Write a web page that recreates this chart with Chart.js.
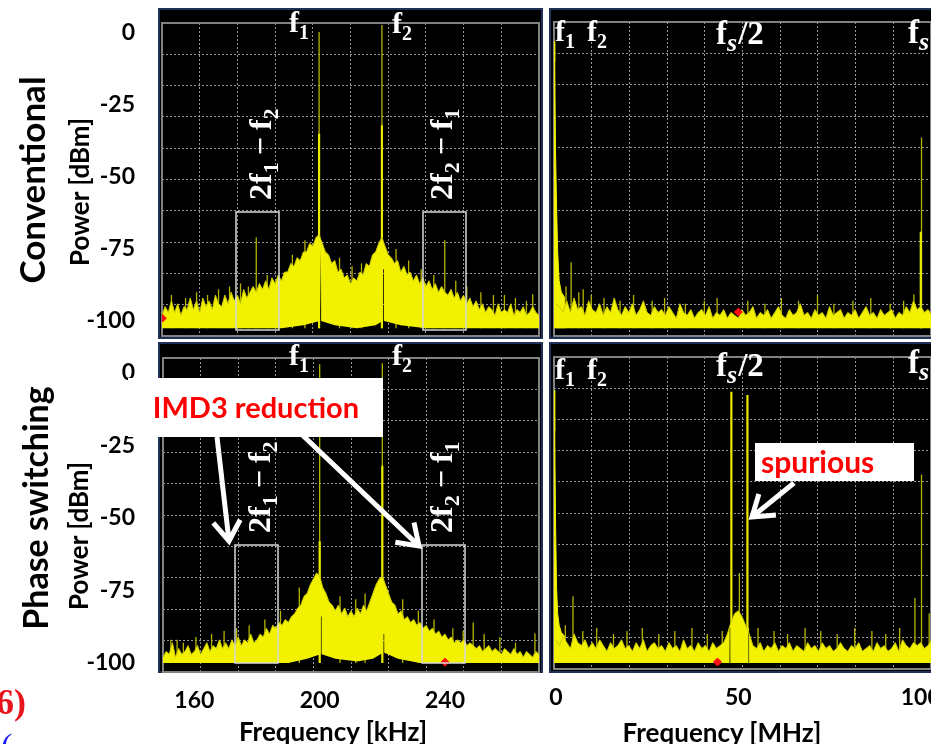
<!DOCTYPE html>
<html>
<head>
<meta charset="utf-8">
<title>Conventional vs phase switching spectra</title>
<script src="https://cdn.jsdelivr.net/npm/chart.js@4.4.1/dist/chart.umd.min.js"></script>
<style>
  body { margin: 0; width: 931px; height: 744px; overflow: hidden; background: #fff; position: relative; }
  canvas { position: absolute; }
  .lbl { position: absolute; font-family: Lato, sans-serif; font-weight: bold; color: #000; white-space: nowrap; line-height: 1; }
  .rot { transform: translate(-50%, -50%) rotate(-90deg); }
  .ctr { transform: translate(-50%, -50%); }
  svg { position: absolute; left: 0; top: 0; }
</style>
</head>
<body>
<canvas id="tl" width="545" height="341" style="left:0;top:0"></canvas>
<canvas id="tr" width="390" height="341" style="left:546px;top:0"></canvas>
<canvas id="bl" width="545" height="403" style="left:0;top:341px"></canvas>
<canvas id="br" width="390" height="403" style="left:546px;top:341px"></canvas>

<div class="lbl rot" style="left:31px;top:180px;font-size:35px">Conventional</div>
<div class="lbl rot" style="left:35px;top:508px;font-size:34px">Phase switching</div>
<div class="lbl rot" style="left:79px;top:192px;font-size:26px">Power [dBm]</div>
<div class="lbl rot" style="left:78px;top:536px;font-size:26px">Power [dBm]</div>
<div class="lbl ctr" style="left:333px;top:731px;font-size:26px">Frequency [kHz]</div>
<div class="lbl ctr" style="left:722px;top:732px;font-size:26px">Frequency [MHz]</div>
<div class="lbl" style="left:-4px;top:684px;font-size:36px;font-family:'Liberation Serif',serif;color:#e8141c">6)</div>
<div class="lbl" style="left:1px;top:729px;font-size:34px;font-family:'Liberation Serif',serif;color:#1a1aff;font-weight:normal">(</div>

<svg id="ov" width="931" height="744"></svg>

<script>
// ---- tick labels ----
const yLabels = [0, -25, -50, -75, -100];
const kHzLabels = [160, 200, 240];
const MHzLabels = [0, 50, 100];

// ---- top left: conventional, 150..270 kHz, 1 kHz bins ----
const tlNoise = [
  -98, -95, -97, -93, -97, -94, -98, -95, -96, -92,
  -96, -93, -97, -92, -95, -93, -96, -91, -94, -95,
  -91, -94, -90, -93, -91, -94, -89, -92, -90, -88,
  -90, -87, -89, -86, -89, -85, -87, -84, -86, -83,
  -83, -80, -81, -78, -79, -76, -76, -73, -74, -71,
  -70, -73, -76, -77, -80, -79, -83, -82, -85, -84,
  -87, -85, -86, -83, -84, -80, -81, -77, -76, -73,
  -71, -74, -77, -78, -80, -79, -83, -81, -84, -83,
  -86, -84, -87, -85, -88, -86, -89, -87, -90, -88,
  -90, -91, -89, -92, -90, -93, -91, -94, -92, -95,
  -93, -96, -94, -97, -95, -96, -98, -94, -97, -96,
  -97, -94, -98, -96, -97, -95, -98, -97, -95, -97, -98
];
const tlFloorF  = [150, 188, 195, 200.25, 200.3, 200.6, 200.65, 205, 212, 218, 220.25, 220.3, 220.6, 220.65, 226, 234, 270];
const tlFloorDb = [-102.5, -102.5, -101.5, -100, -75, -75, -100, -101.5, -102.5, -101.5, -100, -82, -82, -100, -101.5, -102.5, -102.5];
const tlSpikeF = [180, 240, 200, 220, 187, 255.5, 268,
  153, 157.5, 161, 164.5, 168, 171.5, 175, 177.5, 183.5, 191.5, 195.5, 206.5, 210.5, 213.5,
  224.5, 228.5, 232.5, 236.5, 243.5, 247, 251.5, 259, 262.5, 266];
const tlSpikeTop = [-71, -72, 0.3, 2.8, -85, -91, -90.7,
  -91, -92, -90, -91, -89, -88, -87, -88, -84, -77, -72, -78, -81, -80,
  -75, -79, -82, -84, -86, -88, -90, -91, -92, -93];
const tlBodyF = [200, 220];
const tlBodyTop = [-35, -32];
const tlMark = [150.1, -99];

// ---- top right: conventional, 0..103 MHz, 1 MHz bins ----
const trNoise = [
  -94, -95, -97, -93, -97, -92, -96, -95, -98, -93,
  -96, -97, -94, -98, -95, -97, -92, -96, -98, -95,
  -97, -94, -98, -96, -93, -97, -98, -95, -97, -96,
  -98, -95, -97, -99, -94, -97, -98, -96, -99, -97,
  -96, -98, -95, -99, -97, -98, -96, -99, -97, -98,
  -99, -96, -98, -97, -95, -99, -97, -98, -96, -99,
  -97, -95, -98, -99, -96, -98, -97, -94, -98, -97,
  -99, -96, -98, -97, -99, -95, -98, -97, -96, -99,
  -97, -98, -96, -99, -97, -95, -98, -97, -99, -96,
  -98, -97, -96, -99, -97, -98, -95, -97, -93, -96,
  -95, -97, -96, -98
];
const trDecayF  = [-0.5, -0.3, -0.1, 0.2, 0.5, 0.9, 1.5, 2.5];
const trDecayDb = [-3, -10, -40, -60, -76, -86, -90, -92];
const trFloorF  = [-0.5, 103];
const trFloorDb = [-102.5, -102.5];
const trSpikeF = [-0.4, 4.2, 98.1, 100.2, 7.5,
  2.8, 6.3, 9.7, 13.2, 17.6, 21.3, 26.4, 29.8, 35.5, 40.7, 44.2, 52.6, 57.3, 61.8, 66.5,
  71.7, 76.2, 81.4, 86.3, 91.6, 95.3];
const trSpikeTop = [-3, -79.6, -90.7, -36.3, -89,
  -88, -90, -91, -92, -93, -91, -93, -92, -94, -93, -92, -93, -94, -92, -93,
  -91, -94, -93, -92, -94, -93];
const trBodyF = [100];
const trBodyTop = [-69];
const trMark = [50, -96.9];

// ---- bottom left: phase switching, 150..270 kHz ----
const blNoise = [
  -98, -96, -97, -93, -98, -95, -97, -96, -94, -97,
  -96, -94, -97, -95, -93, -96, -94, -95, -92, -95,
  -93, -95, -92, -94, -91, -94, -92, -93, -90, -93,
  -92, -90, -91, -88, -90, -87, -88, -86, -87, -85,
  -86, -84, -83, -81, -80, -77, -76, -73, -71, -69,
  -70, -74, -76, -79, -80, -82, -80, -83, -81, -84,
  -82, -84, -81, -83, -80, -82, -79, -76, -73, -71,
  -70, -73, -76, -79, -80, -83, -82, -85, -84, -86,
  -85, -87, -86, -88, -87, -89, -88, -90, -89, -91,
  -90, -92, -91, -93, -92, -93, -92, -94, -93, -94,
  -95, -94, -96, -95, -94, -96, -95, -96, -97, -95,
  -96, -97, -95, -97, -96, -98, -96, -97, -98, -96, -97
];
const blFloorF  = [150, 190, 196, 200.25, 200.3, 200.6, 200.65, 205, 212, 217, 220.25, 220.3, 220.6, 220.65, 225, 232, 270];
const blFloorDb = [-100, -100, -98.5, -97, -84, -84, -97, -98.5, -99.5, -98.5, -96.5, -90, -90, -96.5, -98.5, -100, -100];
const blSpikeF = [200, 220, 249, 245.8, 268.7, 154.5,
  152.5, 156.5, 160.5, 165.5, 169.5, 173.5, 177.5, 182.5, 187.5, 193.5, 206.5, 211.5, 214.5,
  226.5, 231.5, 236.5, 242.5, 252.5, 257.5, 262.5];
const blSpikeTop = [3, 3.4, -86, -89, -89.7, -92,
  -92, -93, -91, -90, -89, -88, -87, -85, -82, -74, -77, -78, -76,
  -78, -82, -85, -88, -90, -91, -93];
const blBodyF = [200, 220];
const blBodyTop = [-58, -32];
const blMark = [240, -99.7];

// ---- bottom right: phase switching, 0..103 MHz ----
const brNoise = [
  -92, -94, -91, -93, -95, -90, -93, -94, -92, -95,
  -93, -95, -92, -94, -96, -93, -95, -94, -92, -95,
  -94, -96, -93, -95, -92, -96, -94, -93, -95, -94,
  -96, -93, -95, -94, -96, -92, -95, -94, -96, -93,
  -95, -94, -96, -93, -95, -94, -93, -90, -86, -83,
  -82, -84, -87, -90, -94, -95, -93, -96, -94, -95,
  -93, -96, -94, -95, -93, -96, -94, -95, -96, -93,
  -95, -94, -96, -93, -95, -94, -96, -95, -93, -95,
  -96, -94, -95, -93, -96, -95, -94, -96, -93, -95,
  -94, -96, -95, -93, -96, -92, -94, -95, -93, -94,
  -93, -95, -94, -92
];
const brDecayF  = [-0.5, -0.3, -0.1, 0.2, 0.5, 0.9, 1.5, 2.5];
const brDecayDb = [-6, -20, -50, -74, -83, -87, -89.5, -91];
const brFloorF  = [-0.5, 47.6, 47.65, 47.95, 48.0, 52.6, 52.65, 52.95, 53.0, 103];
const brFloorDb = [-100, -100, -88, -88, -100, -100, -88, -88, -100, -100];
const brSpikeF = [-0.4, 4.7, 50.3, 98.4, 100.2, 102.3,
  2.6, 7.4, 11.2, 15.8, 19.5, 23.7, 28.2, 32.6, 37.3, 41.5, 45.6, 55.4, 59.8, 63.5,
  68.3, 72.6, 77.1, 81.9, 86.6, 90.4, 94.2];
const brSpikeTop = [-6, -77, -69, -77.6, -35, -83,
  -87, -89, -88, -90, -89, -88, -90, -89, -88, -90, -89, -88, -89, -90,
  -88, -89, -90, -88, -89, -90, -88];
const brBodyF = [48.1, 52.5];
const brBodyTop = [-6.5, -7.6];
const brMark = [44.3, -99.7];

const FONT = 'Lato';
const YELLOW = '#f2f200';
const GRID = 'rgba(200,200,200,0.75)';

function pts(xs, ys) {
  return xs.map((x, i) => ({ x: x, y: ys[i] }));
}
function binPts(start, step, ys) {
  return ys.map((y, i) => ({ x: start + i * step, y: y }));
}
// vertical spike segments from the floor, separated by gaps
function spikePts(xs, tops, base) {
  const out = [];
  xs.forEach((x, i) => {
    out.push({ x: x, y: base }, { x: x, y: tops[i] }, { x: x, y: null });
  });
  return out;
}

const panelPlugin = (box) => ({
  id: 'panelBg',
  beforeDraw(chart) {
    const c = chart.ctx;
    c.save();
    c.fillStyle = '#000';
    c.fillRect(box[0], box[1], box[2] - box[0], box[3] - box[1]);
    c.strokeStyle = '#1f3158';
    c.lineWidth = 2;
    c.strokeRect(box[0] + 1, box[1] + 1, box[2] - box[0] - 2, box[3] - box[1] - 2);
    c.restore();
  },
  beforeDatasetsDraw(chart) {
    const a = chart.chartArea, c = chart.ctx;
    c.save();
    c.strokeStyle = '#828282';
    c.lineWidth = 2;
    c.strokeRect(a.left, a.top, a.right - a.left, a.bottom - a.top);
    c.restore();
  }
});

function buildChart(id, p) {
  // index 0 is drawn last (on top)
  const datasets = [
    { type: 'scatter', data: [{ x: p.mark[0], y: p.mark[1] }], pointStyle: 'rectRot',
      pointRadius: 4, backgroundColor: '#ff1010', borderColor: '#ff1010', showLine: false },
    { data: binPts(p.start, p.step, p.noise), borderColor: '#caca00', borderWidth: 1, backgroundColor: YELLOW, fill: 2 },
    { data: pts(p.floorF, p.floorDb), borderWidth: 0, borderColor: 'rgba(0,0,0,0)', fill: false },
    { data: pts(p.decayF, p.decayDb), borderColor: YELLOW, borderWidth: 1, backgroundColor: YELLOW, fill: { value: p.base } },
    { data: spikePts(p.bodyF, p.bodyTop, p.base), borderColor: '#eaea00', borderWidth: 2.2, fill: false },
    { data: spikePts(p.spikeF, p.spikeTop, p.base), borderColor: '#b4b400', borderWidth: 1.3, fill: false }
  ];
  datasets.forEach(d => { d.xAxisID = 'x'; d.yAxisID = 'y'; if (d.type !== 'scatter') d.pointRadius = 0; });

  const tickFont = { family: FONT, size: 23, weight: 'bold' };
  return new Chart(document.getElementById(id), {
    type: 'line',
    data: { datasets: datasets },
    options: {
      responsive: false,
      animation: false,
      events: [],
      layout: { padding: p.pad },
      elements: { line: { tension: 0 } },
      plugins: { legend: { display: false }, tooltip: { enabled: false } },
      scales: {
        x: {
          type: 'linear', position: 'bottom', min: p.xMin, max: p.xMax, display: p.showX,
          grid: { display: false }, border: { display: false },
          ticks: { padding: 7, color: '#000', font: tickFont, maxRotation: 0, autoSkip: false },
          afterBuildTicks: s => { s.ticks = p.xTicks.map(v => ({ value: v })); },
          afterFit: s => { s.height = p.showX ? 40 : 0; s.paddingLeft = 0; s.paddingRight = 0; }
        },
        y: {
          type: 'linear', position: 'left', min: p.yMin, max: p.yMax, display: p.showY,
          grid: { display: false }, border: { display: false },
          ticks: { padding: p.yPad, color: '#000', font: tickFont },
          afterBuildTicks: s => { s.ticks = yLabels.map(v => ({ value: v })); },
          afterFit: s => { s.width = p.showY ? p.yW : 0; s.paddingTop = 0; s.paddingBottom = 0; }
        },
        xg: {
          type: 'linear', position: 'bottom', min: 0, max: 10,
          ticks: { display: false, stepSize: 1 },
          grid: { color: GRID, lineWidth: 1, drawTicks: false },
          border: { display: false, dash: [2, 2] },
          afterFit: s => { s.height = 0; s.paddingLeft = 0; s.paddingRight = 0; }
        },
        yg: {
          type: 'linear', position: 'left', min: 0, max: 10,
          ticks: { display: false, stepSize: 1 },
          grid: { color: GRID, lineWidth: 1, drawTicks: false },
          border: { display: false, dash: [2, 2] },
          afterFit: s => { s.width = 0; s.paddingTop = 0; s.paddingBottom = 0; }
        }
      }
    },
    plugins: [panelPlugin(p.box)]
  });
}

buildChart('tl', {
  noise: tlNoise, start: 150, step: 1, floorF: tlFloorF, floorDb: tlFloorDb,
  decayF: [], decayDb: [], spikeF: tlSpikeF, spikeTop: tlSpikeTop,
  bodyF: tlBodyF, bodyTop: tlBodyTop, mark: tlMark,
  xMin: 150, xMax: 270, yMin: -105.2, yMax: 3.46, base: -102.5,
  pad: { left: 0, top: 23, right: 6, bottom: 4 }, yW: 162, yPad: 19,
  showX: false, showY: true, xTicks: [], box: [158, 8, 543, 339]
});
buildChart('tr', {
  noise: trNoise, start: 0, step: 1, floorF: trFloorF, floorDb: trFloorDb,
  decayF: trDecayF, decayDb: trDecayDb, spikeF: trSpikeF, spikeTop: trSpikeTop,
  bodyF: trBodyF, bodyTop: trBodyTop, mark: trMark,
  xMin: -0.5, xMax: 102.8, yMin: -105.2, yMax: 3.8, base: -102.5,
  pad: { left: 8, top: 22, right: 4, bottom: 4 }, yW: 0, yPad: 0,
  showX: false, showY: false, xTicks: [], box: [3, 8, 390, 339]
});
buildChart('bl', {
  noise: blNoise, start: 150, step: 1, floorF: blFloorF, floorDb: blFloorDb,
  decayF: [], decayDb: [], spikeF: blSpikeF, spikeTop: blSpikeTop,
  bodyF: blBodyF, bodyTop: blBodyTop, mark: blMark,
  xMin: 150, xMax: 270, yMin: -103.1, yMax: 5.17, base: -100,
  pad: { left: 0, top: 17, right: 6, bottom: 32 }, yW: 163, yPad: 20,
  showX: true, showY: true, xTicks: kHzLabels, box: [158, 1, 543, 332]
});
buildChart('br', {
  noise: brNoise, start: 0, step: 1, floorF: brFloorF, floorDb: brFloorDb,
  decayF: brDecayF, decayDb: brDecayDb, spikeF: brSpikeF, spikeTop: brSpikeTop,
  bodyF: brBodyF, bodyTop: brBodyTop, mark: brMark,
  xMin: -0.5, xMax: 102.8, yMin: -102.1, yMax: 5.5, base: -100,
  pad: { left: 8, top: 16, right: 4, bottom: 35 }, yW: 0, yPad: 0,
  showX: true, showY: false, xTicks: MHzLabels, box: [3, 1, 390, 332]
});

// ---- annotations (overlay) ----
const ov = document.getElementById('ov');
const NS = 'http://www.w3.org/2000/svg';
function add(tag, attrs, parent) {
  const e = document.createElementNS(NS, tag);
  for (const k in attrs) e.setAttribute(k, attrs[k]);
  (parent || ov).appendChild(e);
  return e;
}
function math(x, y, parts, rotated, size) {
  const fs = size || 30;
  const t = add('text', { x: x, y: y, fill: '#fff', 'font-family': 'Liberation Serif, serif',
    'font-weight': 'bold', 'font-size': fs });
  if (rotated) t.setAttribute('transform', 'rotate(-90 ' + x + ' ' + y + ')');
  let shift = 0;
  parts.forEach(([s, k, dx]) => {
    const sp = add('tspan', {}, t);
    const want = k ? Math.round(fs * 0.22) : 0;
    if (want !== shift) { sp.setAttribute('dy', want - shift); shift = want; }
    if (dx) sp.setAttribute('dx', dx);
    if (k) sp.setAttribute('font-size', Math.round(fs * (k === 'i' ? 0.78 : 0.68)));
    if (k === 'i') sp.setAttribute('font-style', 'italic');
    sp.textContent = s;
  });
}
function box(x, y, w, h) {
  add('rect', { x: x, y: y, width: w, height: h, fill: 'none', stroke: '#d8d8d8', 'stroke-width': 1.5 });
}
function arrow(x1, y1, x2, y2) {
  const a = Math.atan2(y2 - y1, x2 - x1), L = 24, w = 0.6;
  const p1 = [x2 - L * Math.cos(a - w), y2 - L * Math.sin(a - w)];
  const p2 = [x2 - L * Math.cos(a + w), y2 - L * Math.sin(a + w)];
  add('path', { d: 'M' + x1 + ',' + y1 + 'L' + x2 + ',' + y2 + 'M' + p1 + 'L' + x2 + ',' + y2 + 'L' + p2,
    stroke: '#fff', 'stroke-width': 5, fill: 'none' });
}

const F1 = [['f'], ['1', 's']], F2 = [['f'], ['2', 's']];
const FS2 = [['f'], ['s', 'i'], ['/2', '', 1]], FS = [['f'], ['s', 'i']];
const IM1 = [['2f'], ['1', 's'], ['\u2212', '', 7], ['f', '', 7], ['2', 's']];
const IM2 = [['2f'], ['2', 's'], ['\u2212', '', 7], ['f', '', 7], ['1', 's']];

box(236, 212, 43, 118); box(423, 212, 43, 118);
box(235, 545, 43, 118); box(422, 545, 43, 118);
math(289, 32, F1); math(392, 33, F2);
math(555, 41, F1); math(587, 41, F2); math(716, 44, FS2, false, 33); math(908, 43, FS, false, 33);
math(289, 365, F1); math(392, 365, F2);
math(555, 379, F1); math(587, 379, F2); math(716, 376, FS2, false, 33); math(908, 373, FS, false, 33);
math(271, 200, IM1, true, 32); math(452, 200, IM2, true, 32);
math(270, 533, IM1, true, 32); math(452, 533, IM2, true, 32);

add('rect', { x: 128, y: 378, width: 255, height: 59, fill: '#fff' });
const t1 = add('text', { x: 256, y: 418, 'text-anchor': 'middle', fill: '#ff0000',
  'font-family': 'Lato, sans-serif', 'font-weight': 'bold', 'font-size': 29 });
t1.textContent = 'IMD3 reduction';
arrow(217, 437, 229, 541);
arrow(295, 428, 419, 546);

add('rect', { x: 755, y: 443, width: 159, height: 38, fill: '#fff' });
const t2 = add('text', { x: 761, y: 473, fill: '#ff0000',
  'font-family': 'Lato, sans-serif', 'font-weight': 'bold', 'font-size': 30 });
t2.textContent = 'spurious';
arrow(794, 483, 752, 517);
</script>
</body>
</html>
